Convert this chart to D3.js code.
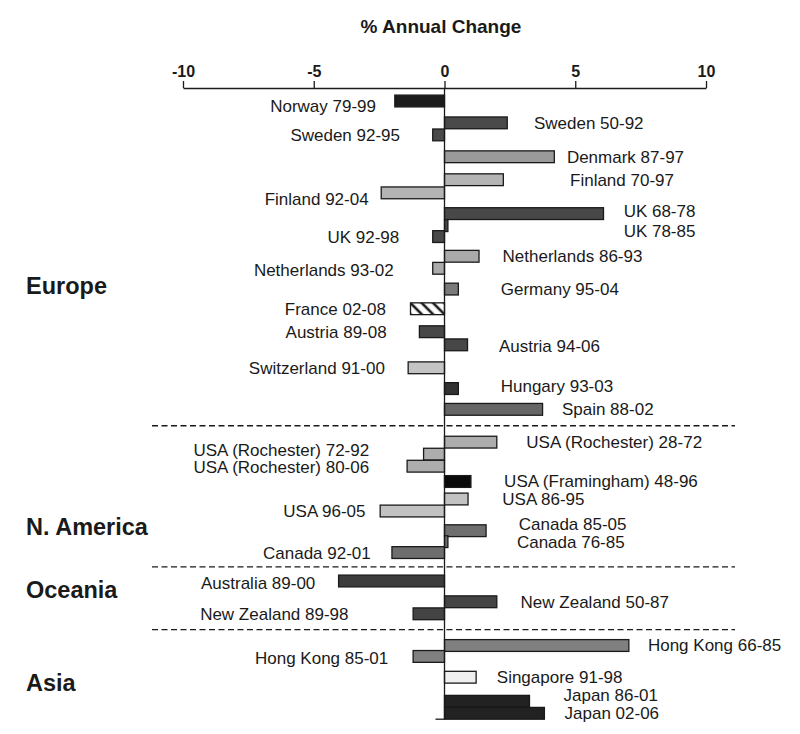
<!DOCTYPE html>
<html>
<head>
<meta charset="utf-8">
<script src="https://cdn.jsdelivr.net/npm/d3@7"></script>
<style>
  body { margin: 0; background: #fff; }
  text { font-family: "Liberation Sans", Arial, sans-serif; fill: #1a1a1a; }
</style>
</head>
<body>
<svg id="chart"></svg>
<script>
// Data.
const periods = [
  "Norway 79-99", "Sweden 50-92", "Sweden 92-95", "Denmark 87-97", "Finland 70-97", "Finland 92-04",
  "UK 68-78", "UK 78-85", "UK 92-98", "Netherlands 86-93", "Netherlands 93-02", "Germany 95-04",
  "France 02-08", "Austria 89-08", "Austria 94-06", "Switzerland 91-00", "Hungary 93-03", "Spain 88-02",
  "USA (Rochester) 28-72", "USA (Rochester) 72-92", "USA (Rochester) 80-06", "USA (Framingham) 48-96",
  "USA 86-95", "USA 96-05", "Canada 85-05", "Canada 76-85", "Canada 92-01",
  "Australia 89-00", "New Zealand 50-87", "New Zealand 89-98",
  "Hong Kong 66-85", "Hong Kong 85-01", "Singapore 91-98", "Japan 86-01", "Japan 02-06"
];
const annualChange = [
  -1.9, 2.4, -0.45, 4.2, 2.25, -2.42,
  6.08, 0.13, -0.45, 1.32, -0.45, 0.53,
  -1.3, -0.96, 0.88, -1.39, 0.53, 3.75,
  2.0, -0.8, -1.43, 1.01,
  0.9, -2.46, 1.59, 0.13, -2.01,
  -4.05, 2.0, -1.2,
  7.05, -1.2, 1.21, 3.25, 3.82
];
// position of each bar along the (uneven) vertical category axis, in rows
const rowPos = [
  0, 2, 3.1, 5.1, 7.2, 8.4,
  10.3, 11.4, 12.4, 14.2, 15.3, 17.2,
  19, 21.1, 22.3, 24.4, 26.3, 28.2,
  31.2, 32.3, 33.4, 34.8,
  36.4, 37.5, 39.3, 40.3, 41.3,
  43.9, 45.8, 46.9,
  49.8, 50.8, 52.7, 54.9, 56
];
const regions = ["Europe", "N. America", "Oceania", "Asia"];
const regionSizes = [18, 9, 3, 5];
const regionLabelRow = [16.9, 38.9, 44.7, 53.2];
const xTicks = [-10, -5, 0, 5, 10];

// Label placement (axis units for x, rows for the nudge)
const labelAt = [
  -2.62, 3.42, -1.7, 4.68, 4.8, -2.9,
  6.85, 6.85, -1.73, 2.22, -1.94, 2.15,
  -2.24, -2.21, 2.08, -2.28, 2.15, 4.49,
  3.13, -2.88, -2.88, 2.28,
  2.21, -3.02, 2.84, 2.77, -2.82,
  -4.94, 2.91, -3.67,
  7.78, -2.15, 2.0, 4.55, 4.59
];
const labelNudge = [
  0.45, 0, 0, 0, 0, 0.6,
  -0.2, 0.45, 0, 0, 0.2, 0,
  0, 0, 0.1, 0, -0.2, 0,
  0, -0.4, 0.05, 0,
  0, 0, -0.65, 0, 0,
  0.15, 0, 0,
  0, 0.15, 0, -0.55, 0
];

// Shade of each place.
const shade = {
  "Norway": "#1c1c1c", "Sweden": "#4a4a4a", "Denmark": "#9a9a9a", "Finland": "#b4b4b4",
  "UK": "#484848", "Netherlands": "#aaaaaa", "Germany": "#7a7a7a", "France": "url(#hatch)",
  "Austria": "#474747", "Switzerland": "#c4c4c4", "Hungary": "#333333", "Spain": "#666666",
  "USA (Rochester)": "#adadad", "USA (Framingham)": "#0a0a0a", "USA": "#c2c2c2",
  "Canada": "#6e6e6e", "Australia": "#3c3c3c", "New Zealand": "#444444",
  "Hong Kong": "#808080", "Singapore": "#efefef", "Japan": "#222222"
};

const width = 800, height = 734;
const svg = d3.select("#chart").attr("width", width).attr("height", height);

const x = d3.scaleLinear().domain([-10, 10]).range([183, 706]);
const y = d3.scaleLinear().domain([0, 56]).range([101, 713.3]);
const barH = 11.8;

// hatch for France
const pat = svg.append("defs").append("pattern")
    .attr("id", "hatch")
    .attr("patternUnits", "userSpaceOnUse")
    .attr("width", 8).attr("height", 8)
    .attr("patternTransform", "rotate(-45)");
pat.append("rect").attr("width", 8).attr("height", 8).attr("fill", "#fff");
pat.append("line").attr("x1", 4).attr("x2", 4).attr("y1", 0).attr("y2", 8)
    .attr("stroke", "#1a1a1a").attr("stroke-width", 2.6);

// Title
svg.append("text")
    .attr("x", 441).attr("y", 33)
    .attr("text-anchor", "middle")
    .style("font-size", "19px").style("font-weight", "bold")
    .text("% Annual Change");

// Top axis (plain hyphen for negatives, as in the original)
const axis = svg.append("g")
    .attr("transform", "translate(0,88)")
    .call(d3.axisTop(x).tickValues(xTicks).tickFormat(d => String(d))
      .tickSize(7).tickSizeOuter(0).tickPadding(4));
axis.select(".domain").attr("stroke", "#1a1a1a").attr("stroke-width", 1.3);
axis.selectAll(".tick line").attr("stroke", "#1a1a1a").attr("stroke-width", 1.3);
axis.selectAll(".tick text")
    .style("font-family", "Liberation Sans, Arial, sans-serif")
    .style("font-size", "16px").style("font-weight", "bold").attr("fill", "#1a1a1a");

const bars = periods.map((p, i) => ({
  label: p,
  place: p.replace(/ \d\d-\d\d$/, ""),
  value: annualChange[i],
  row: rowPos[i],
  at: labelAt[i],
  nudge: labelNudge[i]
}));

// Bars
svg.selectAll("rect.bar")
  .data(bars)
  .enter()
  .append("rect")
  .attr("class", "bar")
  .attr("x", d => x(Math.min(0, d.value)))
  .attr("width", d => Math.abs(x(d.value) - x(0)))
  .attr("y", d => y(d.row) - barH / 2)
  .attr("height", barH)
  .attr("fill", d => shade[d.place])
  .attr("stroke", "#1a1a1a")
  .attr("stroke-width", 1.3);

// Bar labels
svg.selectAll("text.lbl")
  .data(bars)
  .enter()
  .append("text")
  .attr("class", "lbl")
  .attr("x", d => x(d.at))
  .attr("y", d => y(d.row + d.nudge))
  .attr("dy", "0.35em")
  .attr("text-anchor", d => d.value < 0 ? "end" : "start")
  .style("font-size", "17px")
  .text(d => d.label);

// Zero line
svg.append("line")
    .attr("x1", x(0)).attr("x2", x(0))
    .attr("y1", 88).attr("y2", y(56) + barH / 2)
    .attr("stroke", "#1a1a1a").attr("stroke-width", 1.3);
svg.append("line")
    .attr("x1", x(0) - 9).attr("x2", x(0))
    .attr("y1", y(56) + barH / 2).attr("y2", y(56) + barH / 2)
    .attr("stroke", "#1a1a1a").attr("stroke-width", 1.3);

// Region separators and names
let start = 0;
regionSizes.forEach((n, r) => {
  const end = start + n;
  if (end < bars.length) {
    const mid = (bars[end - 1].row + bars[end].row) / 2;
    svg.append("line")
        .attr("x1", 152).attr("x2", 735)
        .attr("y1", y(mid)).attr("y2", y(mid))
        .attr("stroke", "#1a1a1a").attr("stroke-width", 1.3)
        .attr("stroke-dasharray", "6,3.5");
  }
  svg.append("text")
      .attr("x", 26).attr("y", y(regionLabelRow[r]))
      .attr("dy", "0.35em")
      .style("font-size", "23.5px").style("font-weight", "bold")
      .text(regions[r]);
  start = end;
});
</script>
</body>
</html>
